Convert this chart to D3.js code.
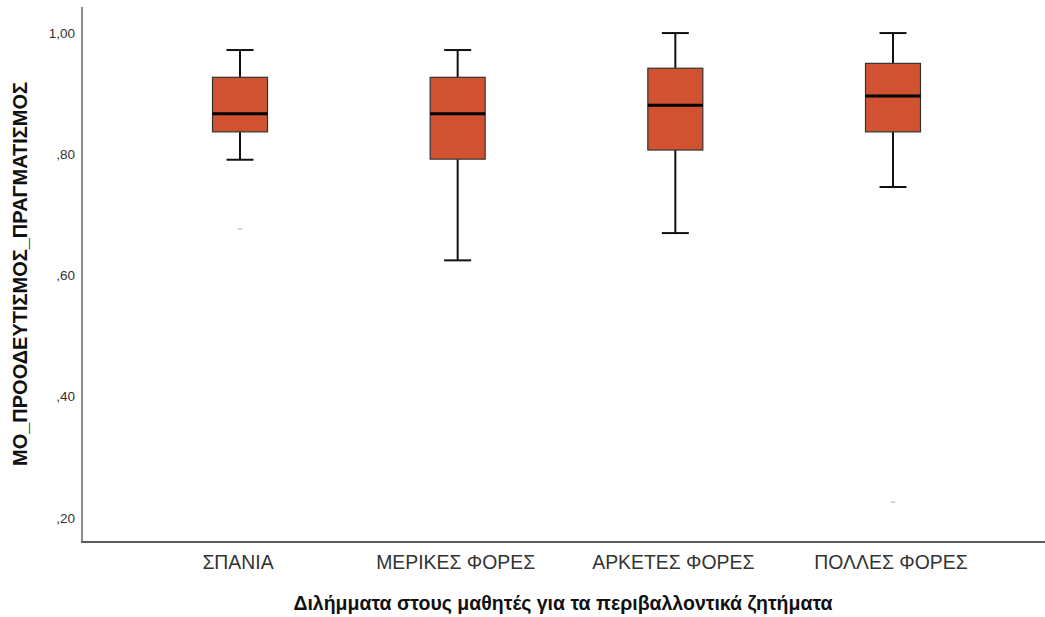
<!DOCTYPE html>
<html><head><meta charset="utf-8">
<script src="https://cdn.jsdelivr.net/npm/d3@7"></script>
<style>body{margin:0;background:#fff}svg{display:block}</style>
</head><body>
<svg id="c" width="1045" height="617"></svg>
<script>
const categories = ["ΣΠΑΝΙΑ", "ΜΕΡΙΚΕΣ ΦΟΡΕΣ", "ΑΡΚΕΤΕΣ ΦΟΡΕΣ", "ΠΟΛΛΕΣ ΦΟΡΕΣ"];
const whiskerLow  = [0.791, 0.625, 0.670, 0.746];
const q1          = [0.837, 0.792, 0.807, 0.837];
const median      = [0.867, 0.867, 0.881, 0.896];
const q3          = [0.927, 0.927, 0.942, 0.950];
const whiskerHigh = [0.972, 0.972, 1.000, 1.000];
const outliers    = [[0.677], [], [], [0.226]];
const yTicks = [0.2, 0.4, 0.6, 0.8, 1.0];
const yTickLabels = [",20", ",40", ",60", ",80", "1,00"];
const xTitle = "Διλήμματα στους μαθητές για τα περιβαλλοντικά ζητήματα";
const yTitle = "ΜΟ_ΠΡΟΟΔΕΥΤΙΣΜΟΣ_ΠΡΑΓΜΑΤΙΣΜΟΣ";

(function () {
const svg = d3.select("#c");
const mLeft = 82, mTop = 7, mBottom = 542, mRight = 1045;
const y = d3.scaleLinear().domain([0.1603, 1.0430]).range([mBottom, mTop]);
const x = d3.scalePoint().domain(categories).range([240, 893]);
const boxW = 55, capW = 27;
const font = "Liberation Sans, Arial, sans-serif";

svg.append("line").attr("x1", mLeft).attr("x2", mLeft).attr("y1", mTop).attr("y2", mBottom)
  .attr("stroke", "#8c8c8c").attr("stroke-width", 2);
svg.append("line").attr("x1", mLeft - 1).attr("x2", mRight).attr("y1", mBottom).attr("y2", mBottom)
  .attr("stroke", "#5a5a5a").attr("stroke-width", 2);

svg.selectAll(".yt").data(yTicks).enter().append("text")
  .attr("x", mLeft - 7).attr("y", d => y(d)).attr("dy", "0.35em")
  .attr("text-anchor", "end").attr("font-family", font)
  .attr("font-size", 13.5).attr("fill", "#333")
  .text((d, i) => yTickLabels[i]);

svg.selectAll(".xt").data(categories).enter().append("text")
  .attr("transform", d => `translate(${x(d) - 2},569) scale(0.97,1)`)
  .attr("text-anchor", "middle").attr("font-family", font)
  .attr("font-size", 20).attr("fill", "#333")
  .text(d => d);

svg.append("text").attr("x", 563).attr("y", 610)
  .attr("text-anchor", "middle").attr("font-family", font)
  .attr("font-size", 19.5).attr("font-weight", "bold").attr("fill", "#111")
  .text(xTitle);

svg.append("text").attr("transform", "translate(27,274) rotate(-90)")
  .attr("text-anchor", "middle").attr("font-family", font)
  .attr("font-size", 20).attr("font-weight", "bold").attr("fill", "#111")
  .text(yTitle);

const g = svg.selectAll(".box").data(categories).enter().append("g");
g.append("line").attr("x1", d => x(d)).attr("x2", d => x(d))
  .attr("y1", (d, i) => y(whiskerHigh[i])).attr("y2", (d, i) => y(q3[i]))
  .attr("stroke", "#111").attr("stroke-width", 2);
g.append("line").attr("x1", d => x(d)).attr("x2", d => x(d))
  .attr("y1", (d, i) => y(q1[i])).attr("y2", (d, i) => y(whiskerLow[i]))
  .attr("stroke", "#111").attr("stroke-width", 2);
g.append("line").attr("x1", d => x(d) - capW / 2).attr("x2", d => x(d) + capW / 2)
  .attr("y1", (d, i) => y(whiskerHigh[i])).attr("y2", (d, i) => y(whiskerHigh[i]))
  .attr("stroke", "#111").attr("stroke-width", 2);
g.append("line").attr("x1", d => x(d) - capW / 2).attr("x2", d => x(d) + capW / 2)
  .attr("y1", (d, i) => y(whiskerLow[i])).attr("y2", (d, i) => y(whiskerLow[i]))
  .attr("stroke", "#111").attr("stroke-width", 2);
g.append("rect").attr("x", d => x(d) - boxW / 2).attr("width", boxW)
  .attr("y", (d, i) => y(q3[i])).attr("height", (d, i) => y(q1[i]) - y(q3[i]))
  .attr("fill", "#d15230").attr("stroke", "#333").attr("stroke-width", 1.2);
g.append("line").attr("x1", d => x(d) - boxW / 2).attr("x2", d => x(d) + boxW / 2)
  .attr("y1", (d, i) => y(median[i])).attr("y2", (d, i) => y(median[i]))
  .attr("stroke", "#000").attr("stroke-width", 3);
g.each(function (d, i) {
  d3.select(this).selectAll(".o").data(outliers[i]).enter().append("line")
    .attr("x1", x(d) - 2).attr("x2", x(d) + 2)
    .attr("y1", v => y(v)).attr("y2", v => y(v))
    .attr("stroke", "#aaa").attr("stroke-width", 1);
});
})();
</script>
</body></html>
